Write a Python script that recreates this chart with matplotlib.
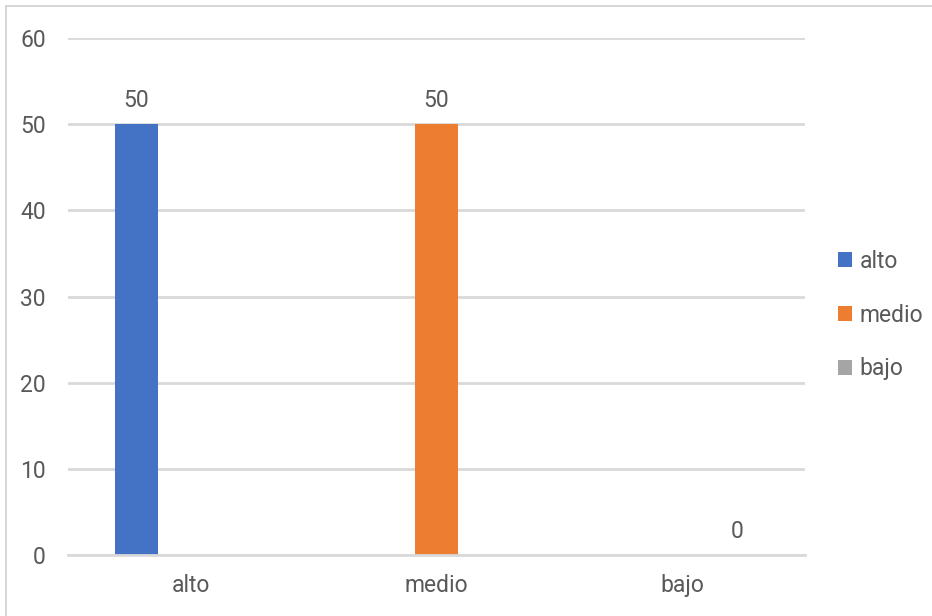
import numpy as np
import matplotlib
matplotlib.use("Agg")
import matplotlib.pyplot as plt
from matplotlib.patches import Patch
from matplotlib.lines import Line2D

categories = ["alto", "medio", "bajo"]
series_names = ["alto", "medio", "bajo"]
alto_vals = [50, np.nan, np.nan]
medio_vals = [np.nan, 50, np.nan]
bajo_vals = [np.nan, np.nan, 0]
yticks = [0, 10, 20, 30, 40, 50, 60]

colors = ["#4472C4", "#ED7D31", "#A5A5A5"]
text_color = "#595959"
grid_color = "#D9D9D9"
FS = 16.5

plt.rcParams['font.family'] = ['Roboto', 'DejaVu Sans']

W, H = 932, 616
fig = plt.figure(figsize=(W / 100, H / 100), dpi=100)
ax = fig.add_axes([68 / W, 1 - 555 / H, (805 - 68) / W, (555 - 38) / H])

x = np.arange(len(categories))
width = 0.175
offsets = [-0.222, 0.0, 0.222]
for vals, name, col, off in zip([alto_vals, medio_vals, bajo_vals], series_names, colors, offsets):
    vals = np.array(vals, dtype=float)
    ax.bar(x + off, vals, width, color=col, label=name, zorder=3)
    for xi, v in zip(x, vals):
        if not np.isnan(v):
            ax.annotate(f"{v:g}", (xi + off, v), xytext=(0, 9), textcoords="offset points",
                        ha="center", va="bottom", fontsize=FS, color=text_color)

ax.set_xlim(-0.5, 2.5)
ax.set_ylim(0, 60)
ax.set_yticks(yticks)
ax.set_xticks(x)
ax.set_xticklabels(categories)
ax.yaxis.grid(True, color=grid_color, linewidth=2, zorder=0)
for s in ["top", "right", "left"]:
    ax.spines[s].set_visible(False)
ax.spines["bottom"].set_color(grid_color)
ax.spines["bottom"].set_linewidth(2)
ax.spines["bottom"].set_zorder(4)
ax.tick_params(axis="both", length=0, labelsize=FS, labelcolor=text_color)
ax.tick_params(axis="y", pad=16)
ax.tick_params(axis="x", pad=14)

handles = [Patch(facecolor=c, edgecolor="none", label=n) for c, n in zip(colors, series_names)]
fig.legend(handles=handles, loc="center left", bbox_to_anchor=(838 / W, 1 - 315 / H),
           frameon=False, fontsize=FS, labelcolor=text_color, handlelength=0.6,
           handleheight=0.6, handletextpad=0.35, labelspacing=1.35,
           borderpad=0, borderaxespad=0)

# outer border (left and top visible)
fig.add_artist(Line2D([6 / W, 6 / W], [0, 1 - 6 / H], color="#D0D0D0", linewidth=1.2))
fig.add_artist(Line2D([6 / W, 1], [1 - 6 / H, 1 - 6 / H], color="#D0D0D0", linewidth=1.2))

fig.savefig("out.png", dpi=100)
